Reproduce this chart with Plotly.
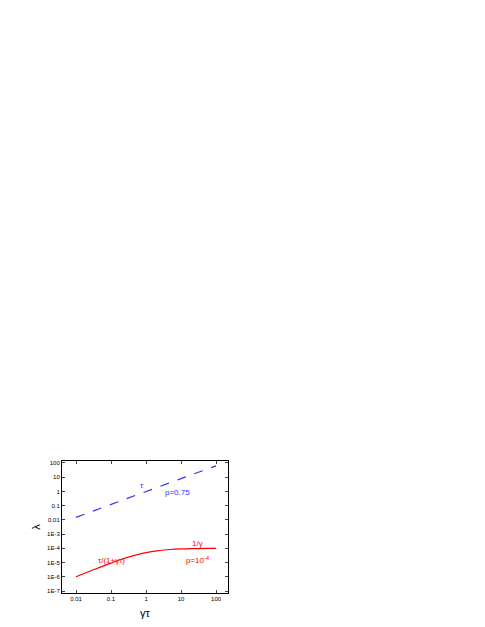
import math
import plotly.graph_objects as go

x = [0.01, 0.02, 0.05, 0.1, 0.2, 0.5, 1, 2, 5, 10, 20, 50, 100]
tau_vals = [0.015, 0.028, 0.06, 0.12, 0.22, 0.5, 0.95, 1.8, 4.2, 8, 15, 34, 63]
red_vals = [1e-6, 2e-6, 4.8e-6, 9.1e-6, 1.7e-5, 3.3e-5, 5e-5, 6.7e-5, 8.3e-5, 9.1e-5, 9.5e-5, 9.8e-5, 9.9e-5]
ytickvals = [1e-7, 1e-6, 1e-5, 1e-4, 1e-3, 0.01, 0.1, 1, 10, 100]
yticktext = ["1E-7", "1E-6", "1E-5", "1E-4", "1E-3", "0.01", "0.1", "1", "10", "100"]
xtickvals = [0.01, 0.1, 1, 10, 100]
xticktext = ["0.01", "0.1", "1", "10", "100"]

fig = go.Figure()
fig.add_trace(go.Scatter(x=x, y=tau_vals, mode="lines", line=dict(color="#3333ff", dash="dash", width=1.2)))
fig.add_trace(go.Scatter(x=x, y=red_vals, mode="lines", line=dict(color="red", width=1.2, shape="spline")))

ann = [("τ", 0.75, 2.8, "#3333ff"), ("p=0.75", 8, 0.9, "#3333ff"),
       ("1/γ", 30, 2.2e-4, "red"), ("p=10<sup>-4</sup>", 30, 1.6e-5, "red"),
       ("τ/(1+γτ)", 0.1, 1.3e-5, "red")]
for t, ax, ay, c in ann:
    fig.add_annotation(x=math.log10(ax), y=math.log10(ay), xref="x", yref="y", text=t, showarrow=False,
                       font=dict(color=c, size=8, family="Arial"), xanchor="center")

axis_common = dict(type="log", showgrid=False, zeroline=False, ticks="inside", ticklen=3,
                   mirror="ticks", showline=True, linecolor="black", linewidth=1, automargin=False,
                   tickfont=dict(size=6, family="Arial", color="black"))
fig.update_xaxes(range=[-2.4, 2.34], tickvals=xtickvals, ticktext=xticktext,
                 title=dict(text="γτ", font=dict(size=11, family="Arial", color="black"), standoff=8), **axis_common)
fig.update_yaxes(range=[-7.14, 2.14], tickvals=ytickvals, ticktext=yticktext,
                 title=dict(text="λ", font=dict(size=11, family="Arial", color="black"), standoff=4), **axis_common)
fig.update_layout(width=485, height=627, showlegend=False, plot_bgcolor="white", paper_bgcolor="white",
                  margin=dict(l=54, r=265, t=453, b=42))
fig.write_html("out.html")
